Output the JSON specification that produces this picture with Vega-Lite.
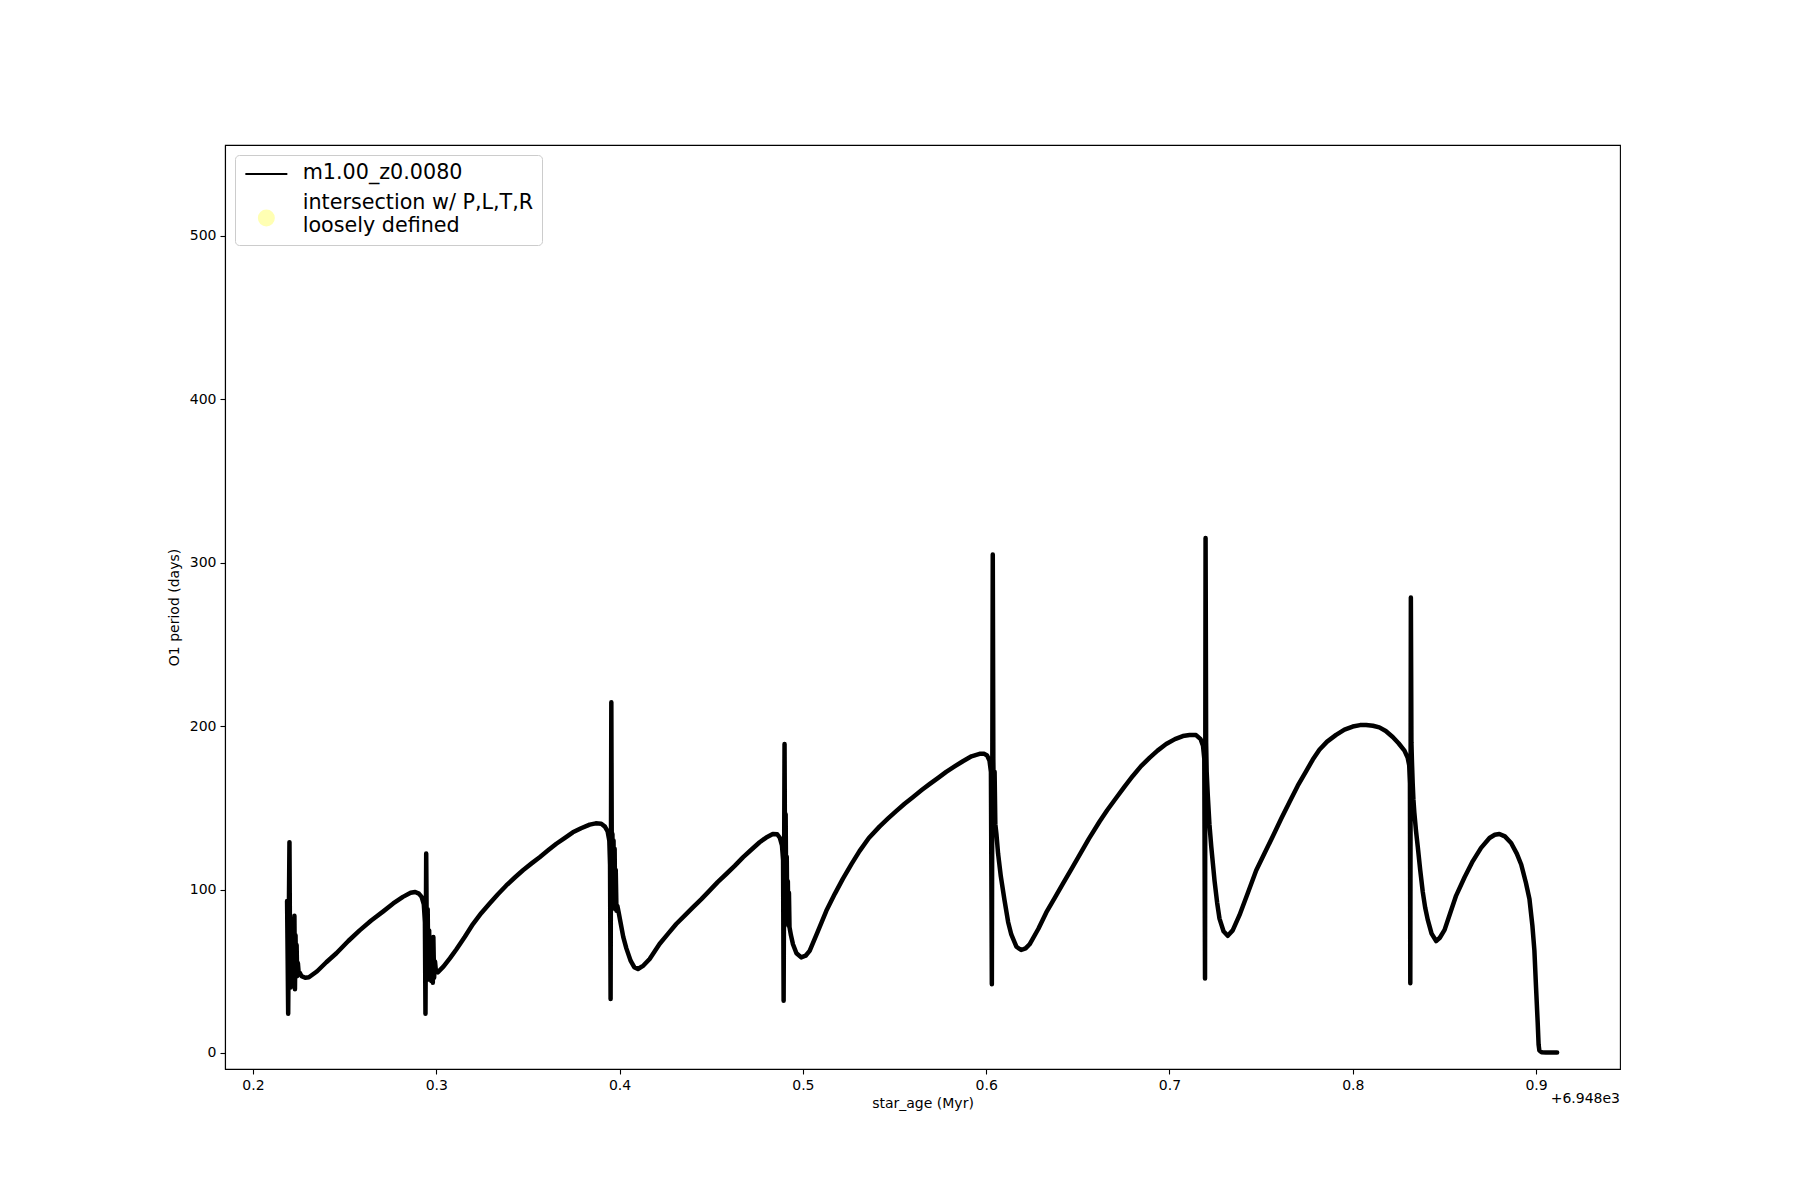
{
  "$schema": "https://vega.github.io/schema/vega-lite/v6.json",
  "width": 1395,
  "height": 924,
  "autosize": "none",
  "padding": {"left": 225, "top": 145, "right": 180, "bottom": 131},
  "background": "white",
  "config": {
    "font": "DejaVu Sans",
    "view": {"stroke": "black", "strokeWidth": 1.1},
    "axis": {"grid": false, "domainColor": "black", "domainWidth": 1.1, "tickColor": "black", "tickWidth": 1.1, "tickSize": 5, "labelPadding": 4, "labelFontSize": 14, "labelColor": "black", "labelFont": "DejaVu Sans", "titleFontSize": 14, "titleFontWeight": "normal", "titleColor": "black", "titleFont": "DejaVu Sans"}
  },
  "title": {"text": "+6.948e3", "orient": "bottom", "anchor": "end", "fontSize": 14, "fontWeight": "normal", "font": "DejaVu Sans", "color": "black", "offset": -18},
  "data": {"values": [
    {"age": 0.2186, "period": 93, "series": "m1.00_z0.0080"},
    {"age": 0.2189, "period": 60, "series": "m1.00_z0.0080"},
    {"age": 0.2192, "period": 24, "series": "m1.00_z0.0080"},
    {"age": 0.2196, "period": 90, "series": "m1.00_z0.0080"},
    {"age": 0.2199, "period": 129, "series": "m1.00_z0.0080"},
    {"age": 0.2202, "period": 62, "series": "m1.00_z0.0080"},
    {"age": 0.2205, "period": 40, "series": "m1.00_z0.0080"},
    {"age": 0.2208, "period": 78, "series": "m1.00_z0.0080"},
    {"age": 0.2211, "period": 45, "series": "m1.00_z0.0080"},
    {"age": 0.2214, "period": 82, "series": "m1.00_z0.0080"},
    {"age": 0.2217, "period": 41, "series": "m1.00_z0.0080"},
    {"age": 0.2220, "period": 76, "series": "m1.00_z0.0080"},
    {"age": 0.2223, "period": 48, "series": "m1.00_z0.0080"},
    {"age": 0.2226, "period": 84, "series": "m1.00_z0.0080"},
    {"age": 0.2229, "period": 39, "series": "m1.00_z0.0080"},
    {"age": 0.2232, "period": 72, "series": "m1.00_z0.0080"},
    {"age": 0.2235, "period": 52, "series": "m1.00_z0.0080"},
    {"age": 0.2238, "period": 66, "series": "m1.00_z0.0080"},
    {"age": 0.2241, "period": 47, "series": "m1.00_z0.0080"},
    {"age": 0.2245, "period": 55, "series": "m1.00_z0.0080"},
    {"age": 0.2250, "period": 48, "series": "m1.00_z0.0080"},
    {"age": 0.2256, "period": 49, "series": "m1.00_z0.0080"},
    {"age": 0.2265, "period": 47, "series": "m1.00_z0.0080"},
    {"age": 0.2285, "period": 46, "series": "m1.00_z0.0080"},
    {"age": 0.2305, "period": 46.3, "series": "m1.00_z0.0080"},
    {"age": 0.2350, "period": 50, "series": "m1.00_z0.0080"},
    {"age": 0.2400, "period": 55.5, "series": "m1.00_z0.0080"},
    {"age": 0.2455, "period": 61, "series": "m1.00_z0.0080"},
    {"age": 0.2520, "period": 68.5, "series": "m1.00_z0.0080"},
    {"age": 0.2582, "period": 75, "series": "m1.00_z0.0080"},
    {"age": 0.2645, "period": 81, "series": "m1.00_z0.0080"},
    {"age": 0.2709, "period": 86.5, "series": "m1.00_z0.0080"},
    {"age": 0.2765, "period": 91.5, "series": "m1.00_z0.0080"},
    {"age": 0.2818, "period": 95.5, "series": "m1.00_z0.0080"},
    {"age": 0.2860, "period": 98, "series": "m1.00_z0.0080"},
    {"age": 0.2885, "period": 98.5, "series": "m1.00_z0.0080"},
    {"age": 0.2905, "period": 97.5, "series": "m1.00_z0.0080"},
    {"age": 0.2920, "period": 95.5, "series": "m1.00_z0.0080"},
    {"age": 0.2932, "period": 91, "series": "m1.00_z0.0080"},
    {"age": 0.2938, "period": 80, "series": "m1.00_z0.0080"},
    {"age": 0.2941, "period": 24, "series": "m1.00_z0.0080"},
    {"age": 0.2945, "period": 122, "series": "m1.00_z0.0080"},
    {"age": 0.2949, "period": 55, "series": "m1.00_z0.0080"},
    {"age": 0.2953, "period": 88, "series": "m1.00_z0.0080"},
    {"age": 0.2957, "period": 45, "series": "m1.00_z0.0080"},
    {"age": 0.2961, "period": 75, "series": "m1.00_z0.0080"},
    {"age": 0.2965, "period": 48, "series": "m1.00_z0.0080"},
    {"age": 0.2969, "period": 68, "series": "m1.00_z0.0080"},
    {"age": 0.2973, "period": 44, "series": "m1.00_z0.0080"},
    {"age": 0.2977, "period": 65, "series": "m1.00_z0.0080"},
    {"age": 0.2981, "period": 43, "series": "m1.00_z0.0080"},
    {"age": 0.2984, "period": 71, "series": "m1.00_z0.0080"},
    {"age": 0.2988, "period": 46, "series": "m1.00_z0.0080"},
    {"age": 0.2993, "period": 56, "series": "m1.00_z0.0080"},
    {"age": 0.2998, "period": 50, "series": "m1.00_z0.0080"},
    {"age": 0.3008, "period": 49.3, "series": "m1.00_z0.0080"},
    {"age": 0.3040, "period": 53, "series": "m1.00_z0.0080"},
    {"age": 0.3075, "period": 58, "series": "m1.00_z0.0080"},
    {"age": 0.3110, "period": 63.5, "series": "m1.00_z0.0080"},
    {"age": 0.3155, "period": 71, "series": "m1.00_z0.0080"},
    {"age": 0.3200, "period": 78.9, "series": "m1.00_z0.0080"},
    {"age": 0.3245, "period": 85.5, "series": "m1.00_z0.0080"},
    {"age": 0.3291, "period": 91.5, "series": "m1.00_z0.0080"},
    {"age": 0.3335, "period": 97, "series": "m1.00_z0.0080"},
    {"age": 0.3382, "period": 102.5, "series": "m1.00_z0.0080"},
    {"age": 0.3430, "period": 107.5, "series": "m1.00_z0.0080"},
    {"age": 0.3473, "period": 111.8, "series": "m1.00_z0.0080"},
    {"age": 0.3520, "period": 116, "series": "m1.00_z0.0080"},
    {"age": 0.3564, "period": 119.8, "series": "m1.00_z0.0080"},
    {"age": 0.3610, "period": 124, "series": "m1.00_z0.0080"},
    {"age": 0.3655, "period": 128, "series": "m1.00_z0.0080"},
    {"age": 0.3700, "period": 131.5, "series": "m1.00_z0.0080"},
    {"age": 0.3745, "period": 135, "series": "m1.00_z0.0080"},
    {"age": 0.3790, "period": 137.5, "series": "m1.00_z0.0080"},
    {"age": 0.3837, "period": 139.7, "series": "m1.00_z0.0080"},
    {"age": 0.3870, "period": 140.5, "series": "m1.00_z0.0080"},
    {"age": 0.3900, "period": 140.2, "series": "m1.00_z0.0080"},
    {"age": 0.3920, "period": 138.5, "series": "m1.00_z0.0080"},
    {"age": 0.3935, "period": 135.5, "series": "m1.00_z0.0080"},
    {"age": 0.3944, "period": 130, "series": "m1.00_z0.0080"},
    {"age": 0.3948, "period": 115, "series": "m1.00_z0.0080"},
    {"age": 0.3951, "period": 33, "series": "m1.00_z0.0080"},
    {"age": 0.3955, "period": 214.6, "series": "m1.00_z0.0080"},
    {"age": 0.3958, "period": 100, "series": "m1.00_z0.0080"},
    {"age": 0.3961, "period": 134, "series": "m1.00_z0.0080"},
    {"age": 0.3964, "period": 90, "series": "m1.00_z0.0080"},
    {"age": 0.3967, "period": 130, "series": "m1.00_z0.0080"},
    {"age": 0.3970, "period": 95, "series": "m1.00_z0.0080"},
    {"age": 0.3973, "period": 125, "series": "m1.00_z0.0080"},
    {"age": 0.3976, "period": 88, "series": "m1.00_z0.0080"},
    {"age": 0.3979, "period": 112, "series": "m1.00_z0.0080"},
    {"age": 0.3983, "period": 87, "series": "m1.00_z0.0080"},
    {"age": 0.3988, "period": 90, "series": "m1.00_z0.0080"},
    {"age": 0.3995, "period": 86, "series": "m1.00_z0.0080"},
    {"age": 0.4005, "period": 80, "series": "m1.00_z0.0080"},
    {"age": 0.4020, "period": 71, "series": "m1.00_z0.0080"},
    {"age": 0.4037, "period": 64, "series": "m1.00_z0.0080"},
    {"age": 0.4060, "period": 56.5, "series": "m1.00_z0.0080"},
    {"age": 0.4080, "period": 52.5, "series": "m1.00_z0.0080"},
    {"age": 0.4100, "period": 51.4, "series": "m1.00_z0.0080"},
    {"age": 0.4130, "period": 53.5, "series": "m1.00_z0.0080"},
    {"age": 0.4164, "period": 57.5, "series": "m1.00_z0.0080"},
    {"age": 0.4218, "period": 66.7, "series": "m1.00_z0.0080"},
    {"age": 0.4265, "period": 73, "series": "m1.00_z0.0080"},
    {"age": 0.4309, "period": 78.9, "series": "m1.00_z0.0080"},
    {"age": 0.4355, "period": 84, "series": "m1.00_z0.0080"},
    {"age": 0.4400, "period": 89.1, "series": "m1.00_z0.0080"},
    {"age": 0.4445, "period": 94, "series": "m1.00_z0.0080"},
    {"age": 0.4491, "period": 99.3, "series": "m1.00_z0.0080"},
    {"age": 0.4535, "period": 104.5, "series": "m1.00_z0.0080"},
    {"age": 0.4582, "period": 109.5, "series": "m1.00_z0.0080"},
    {"age": 0.4628, "period": 114.5, "series": "m1.00_z0.0080"},
    {"age": 0.4673, "period": 119.7, "series": "m1.00_z0.0080"},
    {"age": 0.4720, "period": 124.5, "series": "m1.00_z0.0080"},
    {"age": 0.4764, "period": 128.9, "series": "m1.00_z0.0080"},
    {"age": 0.4800, "period": 131.8, "series": "m1.00_z0.0080"},
    {"age": 0.4836, "period": 134, "series": "m1.00_z0.0080"},
    {"age": 0.4860, "period": 133.8, "series": "m1.00_z0.0080"},
    {"age": 0.4875, "period": 131.5, "series": "m1.00_z0.0080"},
    {"age": 0.4886, "period": 127, "series": "m1.00_z0.0080"},
    {"age": 0.4892, "period": 118, "series": "m1.00_z0.0080"},
    {"age": 0.4895, "period": 32, "series": "m1.00_z0.0080"},
    {"age": 0.4900, "period": 189, "series": "m1.00_z0.0080"},
    {"age": 0.4903, "period": 105, "series": "m1.00_z0.0080"},
    {"age": 0.4906, "period": 146, "series": "m1.00_z0.0080"},
    {"age": 0.4909, "period": 95, "series": "m1.00_z0.0080"},
    {"age": 0.4912, "period": 120, "series": "m1.00_z0.0080"},
    {"age": 0.4915, "period": 82, "series": "m1.00_z0.0080"},
    {"age": 0.4918, "period": 105, "series": "m1.00_z0.0080"},
    {"age": 0.4921, "period": 78, "series": "m1.00_z0.0080"},
    {"age": 0.4924, "period": 98, "series": "m1.00_z0.0080"},
    {"age": 0.4927, "period": 77, "series": "m1.00_z0.0080"},
    {"age": 0.4935, "period": 72, "series": "m1.00_z0.0080"},
    {"age": 0.4946, "period": 66.5, "series": "m1.00_z0.0080"},
    {"age": 0.4965, "period": 61, "series": "m1.00_z0.0080"},
    {"age": 0.4991, "period": 58.5, "series": "m1.00_z0.0080"},
    {"age": 0.5015, "period": 59.5, "series": "m1.00_z0.0080"},
    {"age": 0.5037, "period": 62.5, "series": "m1.00_z0.0080"},
    {"age": 0.5080, "period": 74, "series": "m1.00_z0.0080"},
    {"age": 0.5128, "period": 87, "series": "m1.00_z0.0080"},
    {"age": 0.5175, "period": 97.5, "series": "m1.00_z0.0080"},
    {"age": 0.5218, "period": 106.5, "series": "m1.00_z0.0080"},
    {"age": 0.5265, "period": 115.5, "series": "m1.00_z0.0080"},
    {"age": 0.5309, "period": 123.5, "series": "m1.00_z0.0080"},
    {"age": 0.5360, "period": 131.5, "series": "m1.00_z0.0080"},
    {"age": 0.5418, "period": 138.5, "series": "m1.00_z0.0080"},
    {"age": 0.5465, "period": 143.5, "series": "m1.00_z0.0080"},
    {"age": 0.5509, "period": 148, "series": "m1.00_z0.0080"},
    {"age": 0.5555, "period": 152.5, "series": "m1.00_z0.0080"},
    {"age": 0.5600, "period": 156.5, "series": "m1.00_z0.0080"},
    {"age": 0.5650, "period": 161, "series": "m1.00_z0.0080"},
    {"age": 0.5691, "period": 164.5, "series": "m1.00_z0.0080"},
    {"age": 0.5740, "period": 168.5, "series": "m1.00_z0.0080"},
    {"age": 0.5782, "period": 172, "series": "m1.00_z0.0080"},
    {"age": 0.5830, "period": 175.5, "series": "m1.00_z0.0080"},
    {"age": 0.5873, "period": 178.5, "series": "m1.00_z0.0080"},
    {"age": 0.5920, "period": 181.5, "series": "m1.00_z0.0080"},
    {"age": 0.5964, "period": 183, "series": "m1.00_z0.0080"},
    {"age": 0.5990, "period": 183, "series": "m1.00_z0.0080"},
    {"age": 0.6005, "period": 182, "series": "m1.00_z0.0080"},
    {"age": 0.6018, "period": 179, "series": "m1.00_z0.0080"},
    {"age": 0.6026, "period": 172, "series": "m1.00_z0.0080"},
    {"age": 0.6031, "period": 42, "series": "m1.00_z0.0080"},
    {"age": 0.6036, "period": 305, "series": "m1.00_z0.0080"},
    {"age": 0.6039, "period": 180, "series": "m1.00_z0.0080"},
    {"age": 0.6042, "period": 150, "series": "m1.00_z0.0080"},
    {"age": 0.6046, "period": 172, "series": "m1.00_z0.0080"},
    {"age": 0.6050, "period": 140, "series": "m1.00_z0.0080"},
    {"age": 0.6056, "period": 134, "series": "m1.00_z0.0080"},
    {"age": 0.6065, "period": 122, "series": "m1.00_z0.0080"},
    {"age": 0.6080, "period": 108, "series": "m1.00_z0.0080"},
    {"age": 0.6100, "period": 93.5, "series": "m1.00_z0.0080"},
    {"age": 0.6120, "period": 80, "series": "m1.00_z0.0080"},
    {"age": 0.6137, "period": 72.5, "series": "m1.00_z0.0080"},
    {"age": 0.6165, "period": 65, "series": "m1.00_z0.0080"},
    {"age": 0.6191, "period": 63, "series": "m1.00_z0.0080"},
    {"age": 0.6215, "period": 64, "series": "m1.00_z0.0080"},
    {"age": 0.6237, "period": 66.5, "series": "m1.00_z0.0080"},
    {"age": 0.6285, "period": 76, "series": "m1.00_z0.0080"},
    {"age": 0.6328, "period": 86, "series": "m1.00_z0.0080"},
    {"age": 0.6375, "period": 95, "series": "m1.00_z0.0080"},
    {"age": 0.6418, "period": 103.5, "series": "m1.00_z0.0080"},
    {"age": 0.6465, "period": 112.5, "series": "m1.00_z0.0080"},
    {"age": 0.6509, "period": 121, "series": "m1.00_z0.0080"},
    {"age": 0.6560, "period": 131, "series": "m1.00_z0.0080"},
    {"age": 0.6618, "period": 141.5, "series": "m1.00_z0.0080"},
    {"age": 0.6660, "period": 148.5, "series": "m1.00_z0.0080"},
    {"age": 0.6709, "period": 156, "series": "m1.00_z0.0080"},
    {"age": 0.6755, "period": 163, "series": "m1.00_z0.0080"},
    {"age": 0.6800, "period": 169.5, "series": "m1.00_z0.0080"},
    {"age": 0.6845, "period": 175.5, "series": "m1.00_z0.0080"},
    {"age": 0.6891, "period": 180.5, "series": "m1.00_z0.0080"},
    {"age": 0.6935, "period": 185, "series": "m1.00_z0.0080"},
    {"age": 0.6982, "period": 189, "series": "m1.00_z0.0080"},
    {"age": 0.7030, "period": 192, "series": "m1.00_z0.0080"},
    {"age": 0.7073, "period": 193.9, "series": "m1.00_z0.0080"},
    {"age": 0.7110, "period": 194.5, "series": "m1.00_z0.0080"},
    {"age": 0.7145, "period": 194.5, "series": "m1.00_z0.0080"},
    {"age": 0.7170, "period": 192, "series": "m1.00_z0.0080"},
    {"age": 0.7183, "period": 188, "series": "m1.00_z0.0080"},
    {"age": 0.7190, "period": 180, "series": "m1.00_z0.0080"},
    {"age": 0.7194, "period": 45.5, "series": "m1.00_z0.0080"},
    {"age": 0.7197, "period": 315, "series": "m1.00_z0.0080"},
    {"age": 0.7200, "period": 190, "series": "m1.00_z0.0080"},
    {"age": 0.7203, "period": 172, "series": "m1.00_z0.0080"},
    {"age": 0.7206, "period": 165, "series": "m1.00_z0.0080"},
    {"age": 0.7209, "period": 157.7, "series": "m1.00_z0.0080"},
    {"age": 0.7218, "period": 140, "series": "m1.00_z0.0080"},
    {"age": 0.7228, "period": 126.3, "series": "m1.00_z0.0080"},
    {"age": 0.7246, "period": 105.3, "series": "m1.00_z0.0080"},
    {"age": 0.7260, "period": 92, "series": "m1.00_z0.0080"},
    {"age": 0.7273, "period": 82.2, "series": "m1.00_z0.0080"},
    {"age": 0.7295, "period": 74.5, "series": "m1.00_z0.0080"},
    {"age": 0.7318, "period": 71.7, "series": "m1.00_z0.0080"},
    {"age": 0.7345, "period": 75, "series": "m1.00_z0.0080"},
    {"age": 0.7382, "period": 84.3, "series": "m1.00_z0.0080"},
    {"age": 0.7428, "period": 98, "series": "m1.00_z0.0080"},
    {"age": 0.7473, "period": 111.6, "series": "m1.00_z0.0080"},
    {"age": 0.7520, "period": 122.5, "series": "m1.00_z0.0080"},
    {"age": 0.7564, "period": 132.6, "series": "m1.00_z0.0080"},
    {"age": 0.7610, "period": 143.5, "series": "m1.00_z0.0080"},
    {"age": 0.7655, "period": 153.6, "series": "m1.00_z0.0080"},
    {"age": 0.7700, "period": 163.5, "series": "m1.00_z0.0080"},
    {"age": 0.7746, "period": 172.5, "series": "m1.00_z0.0080"},
    {"age": 0.7782, "period": 179.5, "series": "m1.00_z0.0080"},
    {"age": 0.7818, "period": 185.5, "series": "m1.00_z0.0080"},
    {"age": 0.7860, "period": 190.5, "series": "m1.00_z0.0080"},
    {"age": 0.7909, "period": 194.6, "series": "m1.00_z0.0080"},
    {"age": 0.7955, "period": 197.8, "series": "m1.00_z0.0080"},
    {"age": 0.8000, "period": 199.7, "series": "m1.00_z0.0080"},
    {"age": 0.8040, "period": 200.6, "series": "m1.00_z0.0080"},
    {"age": 0.8073, "period": 200.7, "series": "m1.00_z0.0080"},
    {"age": 0.8110, "period": 200.2, "series": "m1.00_z0.0080"},
    {"age": 0.8145, "period": 199.2, "series": "m1.00_z0.0080"},
    {"age": 0.8180, "period": 197, "series": "m1.00_z0.0080"},
    {"age": 0.8218, "period": 193.3, "series": "m1.00_z0.0080"},
    {"age": 0.8250, "period": 189.5, "series": "m1.00_z0.0080"},
    {"age": 0.8282, "period": 185, "series": "m1.00_z0.0080"},
    {"age": 0.8300, "period": 180.5, "series": "m1.00_z0.0080"},
    {"age": 0.8308, "period": 176, "series": "m1.00_z0.0080"},
    {"age": 0.8312, "period": 165, "series": "m1.00_z0.0080"},
    {"age": 0.8314, "period": 42.6, "series": "m1.00_z0.0080"},
    {"age": 0.8317, "period": 278.6, "series": "m1.00_z0.0080"},
    {"age": 0.8320, "period": 190, "series": "m1.00_z0.0080"},
    {"age": 0.8323, "period": 178, "series": "m1.00_z0.0080"},
    {"age": 0.8327, "period": 165, "series": "m1.00_z0.0080"},
    {"age": 0.8331, "period": 155, "series": "m1.00_z0.0080"},
    {"age": 0.8336, "period": 147, "series": "m1.00_z0.0080"},
    {"age": 0.8345, "period": 136, "series": "m1.00_z0.0080"},
    {"age": 0.8355, "period": 125.8, "series": "m1.00_z0.0080"},
    {"age": 0.8368, "period": 112, "series": "m1.00_z0.0080"},
    {"age": 0.8382, "period": 98.5, "series": "m1.00_z0.0080"},
    {"age": 0.8395, "period": 89, "series": "m1.00_z0.0080"},
    {"age": 0.8409, "period": 81.6, "series": "m1.00_z0.0080"},
    {"age": 0.8430, "period": 73, "series": "m1.00_z0.0080"},
    {"age": 0.8455, "period": 68.5, "series": "m1.00_z0.0080"},
    {"age": 0.8475, "period": 70.5, "series": "m1.00_z0.0080"},
    {"age": 0.8501, "period": 75.3, "series": "m1.00_z0.0080"},
    {"age": 0.8530, "period": 85, "series": "m1.00_z0.0080"},
    {"age": 0.8564, "period": 96.3, "series": "m1.00_z0.0080"},
    {"age": 0.8610, "period": 107.5, "series": "m1.00_z0.0080"},
    {"age": 0.8655, "period": 117.4, "series": "m1.00_z0.0080"},
    {"age": 0.8700, "period": 125.5, "series": "m1.00_z0.0080"},
    {"age": 0.8746, "period": 131.5, "series": "m1.00_z0.0080"},
    {"age": 0.8775, "period": 133.5, "series": "m1.00_z0.0080"},
    {"age": 0.8800, "period": 134, "series": "m1.00_z0.0080"},
    {"age": 0.8830, "period": 132.5, "series": "m1.00_z0.0080"},
    {"age": 0.8864, "period": 128.5, "series": "m1.00_z0.0080"},
    {"age": 0.8895, "period": 122, "series": "m1.00_z0.0080"},
    {"age": 0.8919, "period": 115.3, "series": "m1.00_z0.0080"},
    {"age": 0.8945, "period": 104, "series": "m1.00_z0.0080"},
    {"age": 0.8964, "period": 94.2, "series": "m1.00_z0.0080"},
    {"age": 0.8980, "period": 78, "series": "m1.00_z0.0080"},
    {"age": 0.8991, "period": 62.6, "series": "m1.00_z0.0080"},
    {"age": 0.9000, "period": 40, "series": "m1.00_z0.0080"},
    {"age": 0.9009, "period": 18.4, "series": "m1.00_z0.0080"},
    {"age": 0.9014, "period": 5, "series": "m1.00_z0.0080"},
    {"age": 0.9018, "period": 1.5, "series": "m1.00_z0.0080"},
    {"age": 0.9030, "period": 0.5, "series": "m1.00_z0.0080"},
    {"age": 0.9054, "period": 0.3, "series": "m1.00_z0.0080"},
    {"age": 0.9085, "period": 0.3, "series": "m1.00_z0.0080"},
    {"age": 0.9115, "period": 0.3, "series": "m1.00_z0.0080"}
  ]},
  "mark": {"type": "line", "strokeWidth": 4.5, "strokeJoin": "round", "strokeCap": "round", "interpolate": "linear"},
  "encoding": {
    "x": {"field": "age", "type": "quantitative", "title": "star_age (Myr)",
      "scale": {"domain": [0.18473, 0.9458], "nice": false, "zero": false},
      "axis": {"values": [0.2, 0.3, 0.4, 0.5, 0.6, 0.7, 0.8, 0.9], "format": ".1f", "titlePadding": 4}},
    "y": {"field": "period", "type": "quantitative", "title": "O1 period (days)",
      "scale": {"domain": [-9.8, 555.5], "nice": false, "zero": false},
      "axis": {"values": [0, 100, 200, 300, 400, 500], "titlePadding": 8}},
    "color": {"field": "series", "type": "nominal",
      "scale": {"domain": ["m1.00_z0.0080", "intersection w/ P,L,T,R loosely defined"], "range": ["black", "#ffffb3"]},
      "legend": {
        "orient": "top-left", "title": null, "offset": 10,
        "fillColor": "white", "strokeColor": "#cccccc", "cornerRadius": 4, "padding": 8,
        "labelFontSize": 20.7, "labelFont": "DejaVu Sans", "labelColor": "black", "labelOffset": 26, "labelLimit": 400,
        "symbolType": "stroke", "symbolSize": 1764, "symbolStrokeWidth": 2, "symbolOffset": 13, "rowPadding": 8,
        "labelExpr": "datum.value == 'm1.00_z0.0080' ? datum.label : ['intersection w/ P,L,T,R', 'loosely defined']",
        "encode": {
          "labels": {"update": {"lineHeight": {"value": 23}}},
          "symbols": {"update": {
            "shape": {"signal": "datum.value == 'm1.00_z0.0080' ? 'stroke' : 'circle'"},
            "size": {"signal": "datum.value == 'm1.00_z0.0080' ? 1764 : 225"},
            "fill": {"signal": "datum.value == 'm1.00_z0.0080' ? 'transparent' : '#ffffb3'"},
            "stroke": {"signal": "datum.value == 'm1.00_z0.0080' ? 'black' : 'transparent'"},
            "y": {"signal": "datum.value == 'm1.00_z0.0080' ? 11 : 25"},
            "opacity": {"value": 1}
          }}
        }
      }
    }
  }
}
